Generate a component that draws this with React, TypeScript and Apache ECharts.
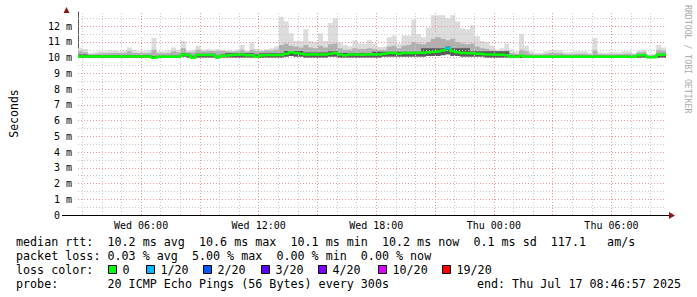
import React, { useEffect, useRef } from "react";
import * as echarts from "echarts";

// Time axis: hours since Wed 00:00; 15-minute bins, 30 hours ending Thu 08:46:57
const START_HOUR = 2.7825;
const BIN_HOURS = 0.25;
const RANGE_HOURS = 30;

const xLabelHours = [6, 12, 18, 24, 30];
const xLabelTexts = ["Wed 06:00", "Wed 12:00", "Wed 18:00", "Thu 00:00", "Thu 06:00"];
const majorGridHours = [6, 9, 12, 15, 18, 21, 24, 27, 30];
const minorGridHours = [3, 4, 5, 7, 8, 10, 11, 13, 14, 16, 17, 19, 20, 22, 23, 25, 26, 28, 29, 31, 32];
const yMajorGrid = [1, 2, 3, 4, 5, 6, 7, 8, 9, 10, 11, 12];
const yMinorGrid = [0.5, 1.5, 2.5, 3.5, 4.5, 5.5, 6.5, 7.5, 8.5, 9.5, 10.5, 11.5, 12.5];

// median RTT (ms) per bin
const medianRtt = [
  10.08, 10.08, 10.08, 10.08, 10.08, 10.08, 10.08, 10.08, 10.08, 10.08,
  10.08, 10.08, 10.08, 10.08, 10.08, 10.0, 10.05, 10.05, 10.05, 10.05,
  10.05, 10.2, 10.15, 10.0, 10.17, 10.17, 10.17, 10.17, 10.02, 10.12,
  10.15, 10.18, 10.2, 10.2, 10.15, 10.15, 10.05, 10.15, 10.17, 10.17,
  10.17, 10.17, 10.25, 10.35, 10.3, 10.25, 10.2, 10.22, 10.2, 10.2,
  10.2, 10.25, 10.3, 10.2, 10.15, 10.2, 10.2, 10.18, 10.2, 10.22,
  10.2, 10.2, 10.25, 10.3, 10.3, 10.25, 10.3, 10.3, 10.3, 10.32,
  10.3, 10.35, 10.38, 10.4, 10.45, 10.6, 10.4, 10.35, 10.3, 10.28,
  10.3, 10.25, 10.22, 10.2, 10.2, 10.18, 10.2, 10.15, 10.05, 10.05,
  10.12, 10.05, 10.05, 10.05, 10.05, 10.05, 10.05, 10.05, 10.05, 10.05,
  10.05, 10.05, 10.05, 10.05, 10.05, 10.05, 10.05, 10.05, 10.05, 10.05,
  10.05, 10.05, 10.05, 10.05, 10.15, 10.15, 10.03, 10.03, 10.18, 10.18,
];

// packet loss (of 20) per bin
const lossCount = [
  0, 0, 0, 0, 0, 0, 0, 0, 0, 0, 0, 0, 0, 0, 0, 0, 0, 0, 0, 0,
  0, 0, 0, 0, 0, 0, 0, 0, 0, 0, 0, 0, 0, 0, 0, 0, 0, 0, 0, 0,
  0, 0, 0, 0, 0, 0, 0, 0, 0, 0, 0, 0, 0, 0, 0, 0, 0, 0, 0, 0,
  0, 0, 0, 0, 0, 0, 0, 0, 0, 0, 0, 0, 0, 0, 0, 1, 0, 0, 0, 0,
  0, 0, 0, 0, 0, 0, 0, 0, 0, 0, 0, 0, 0, 0, 0, 0, 0, 0, 0, 0,
  0, 0, 0, 0, 0, 0, 0, 0, 0, 0, 0, 0, 0, 0, 0, 0, 0, 0, 0, 0,
];

// smoke: lowest ping
const smokeMin = [
  9.98, 9.98, 9.98, 9.98, 9.98, 9.98, 9.98, 9.98, 9.98, 9.98,
  9.98, 9.98, 9.98, 9.98, 9.98, 9.95, 9.98, 9.98, 9.98, 9.98,
  9.98, 10.05, 10.0, 9.95, 10.0, 10.0, 10.0, 10.0, 9.95, 10.0,
  10.0, 10.0, 10.0, 10.0, 10.0, 10.0, 9.98, 10.0, 10.0, 10.0,
  10.0, 10.0, 10.05, 10.1, 10.05, 10.05, 10.0, 10.0, 10.0, 10.0,
  10.0, 10.05, 10.05, 10.0, 10.0, 10.0, 10.0, 10.0, 10.0, 10.0,
  10.0, 10.0, 10.05, 10.05, 10.05, 10.05, 10.05, 10.05, 10.05, 10.05,
  10.05, 10.1, 10.1, 10.1, 10.15, 10.2, 10.1, 10.1, 10.05, 10.05,
  10.05, 10.05, 10.05, 10.0, 10.0, 10.0, 10.0, 10.0, 9.98, 9.98,
  9.98, 9.98, 9.98, 9.98, 9.98, 9.98, 9.98, 9.98, 9.98, 9.98,
  9.98, 9.98, 9.98, 9.98, 9.98, 9.98, 9.98, 9.98, 9.98, 9.98,
  9.98, 9.98, 9.98, 9.98, 10.0, 10.0, 9.98, 9.98, 10.0, 10.0,
];

// smoke: top of the dark band
const smokeDark = [
  10.2, 10.2, 10.15, 10.15, 10.15, 10.15, 10.15, 10.15, 10.15, 10.15,
  10.15, 10.15, 10.15, 10.15, 10.15, 10.1, 10.12, 10.12, 10.12, 10.12,
  10.12, 10.3, 10.25, 10.12, 10.25, 10.25, 10.25, 10.25, 10.12, 10.2,
  10.28, 10.28, 10.28, 10.28, 10.28, 10.28, 10.2, 10.28, 10.28, 10.28,
  10.28, 10.28, 10.42, 10.42, 10.42, 10.42, 10.32, 10.32, 10.32, 10.32,
  10.32, 10.4, 10.4, 10.3, 10.3, 10.3, 10.3, 10.3, 10.3, 10.3,
  10.38, 10.38, 10.38, 10.38, 10.38, 10.38, 10.38, 10.38, 10.38, 10.38,
  10.6, 10.6, 10.6, 10.6, 10.6, 10.7, 10.6, 10.6, 10.6, 10.6,
  10.4, 10.4, 10.4, 10.4, 10.4, 10.4, 10.4, 10.4, 10.15, 10.15,
  10.12, 10.12, 10.12, 10.12, 10.12, 10.12, 10.12, 10.12, 10.12, 10.12,
  10.12, 10.12, 10.12, 10.12, 10.12, 10.12, 10.12, 10.12, 10.12, 10.12,
  10.12, 10.12, 10.12, 10.12, 10.22, 10.22, 10.1, 10.1, 10.25, 10.25,
];

// smoke: top of the medium band
const smokeMid = [
  10.4, 10.35, 10.22, 10.25, 10.28, 10.28, 10.3, 10.3, 10.28, 10.3,
  10.4, 10.3, 10.28, 10.28, 10.3, 10.5, 10.28, 10.28, 10.3, 10.4,
  10.35, 10.6, 10.35, 10.35, 10.5, 10.4, 10.42, 10.4, 10.42, 10.4,
  10.38, 10.38, 10.4, 10.5, 10.38, 10.5, 10.4, 10.4, 10.45, 10.45,
  10.5, 10.8, 10.9, 10.75, 10.7, 10.65, 10.8, 10.65, 10.6, 10.75,
  10.65, 10.85, 10.9, 10.6, 10.5, 10.5, 10.6, 10.55, 10.55, 10.6,
  10.55, 10.5, 10.5, 10.7, 10.75, 10.6, 10.75, 10.8, 11.0, 10.9,
  10.85, 11.0, 11.2, 11.3, 11.2, 11.1, 11.2, 11.0, 10.9, 10.85,
  10.9, 10.7, 10.6, 10.55, 10.45, 10.35, 10.4, 10.45, 10.3, 10.25,
  10.5, 10.4, 10.25, 10.2, 10.2, 10.25, 10.3, 10.3, 10.28, 10.22,
  10.22, 10.25, 10.25, 10.25, 10.2, 10.45, 10.22, 10.2, 10.22, 10.22,
  10.22, 10.25, 10.25, 10.2, 10.35, 10.38, 10.15, 10.18, 10.5, 10.45,
];

// smoke: highest ping
const smokeMax = [
  10.6, 10.55, 10.3, 10.35, 10.4, 10.4, 10.45, 10.45, 10.4, 10.45,
  10.65, 10.5, 10.4, 10.4, 10.45, 11.25, 10.4, 10.4, 10.45, 10.65,
  10.5, 11.05, 10.45, 10.5, 10.75, 10.5, 10.55, 10.5, 10.55, 10.5,
  10.45, 10.45, 10.5, 10.8, 10.45, 10.95, 10.55, 10.5, 10.55, 10.6,
  10.7, 12.6, 12.3, 11.55, 11.05, 11.05, 11.8, 11.05, 11.0, 11.55,
  11.05, 12.2, 12.5, 11.0, 10.8, 10.7, 11.1, 10.9, 10.9, 11.1,
  10.9, 10.67, 10.7, 11.3, 11.4, 10.9, 11.4, 11.4, 12.4, 11.5,
  11.3, 11.9, 12.7, 12.7, 12.7, 12.5, 12.7, 12.3, 11.85, 11.8,
  12.06, 11.36, 11.05, 11.0, 10.75, 10.5, 10.6, 10.9, 10.5, 10.4,
  11.5, 10.75, 10.4, 10.3, 10.3, 10.4, 10.5, 10.5, 10.45, 10.35,
  10.35, 10.4, 10.4, 10.4, 10.3, 11.25, 10.35, 10.3, 10.35, 10.35,
  10.35, 10.4, 10.4, 10.3, 10.45, 10.5, 10.2, 10.25, 10.8, 10.65,
];

const lossLabels = ["0", "1/20", "2/20", "3/20", "4/20", "10/20", "19/20"];
const lossColors = ["#00ff00", "#00b8ff", "#0059ff", "#5e00ff", "#7e00ff", "#dd00ff", "#ff0000"];

const statRows = [
  ["median rtt:", "10.2 ms avg  10.6 ms max  10.1 ms min  10.2 ms now  0.1 ms sd  117.1   am/s"],
  ["packet loss:", "0.03 % avg  5.00 % max  0.00 % min  0.00 % now"],
  ["loss color:", ""],
  ["probe:", "20 ICMP Echo Pings (56 Bytes) every 300s"],
];
const endText = "end: Thu Jul 17 08:46:57 2025";
const watermark = "RRDTOOL / TOBI OETIKER";

const MONO = '"DejaVu Sans Mono", monospace';
const nb = (s: string) => s.replace(/ /g, "\u00a0");

function timeOf(i: number) {
  return START_HOUR + i * BIN_HOURS;
}

function stepData(values: number[]) {
  const d: [number, number][] = values.map((v, i) => [timeOf(i), v]);
  d.push([timeOf(values.length), values[values.length - 1]]);
  return d;
}

export default function App() {
  const ref = useRef<HTMLDivElement>(null);

  useEffect(() => {
    if (!ref.current) return;
    const chart = echarts.init(ref.current, undefined, { renderer: "svg" });

    const lossSeriesData: ([number, number] | null)[] = [];
    lossCount.forEach((l, i) => {
      if (l > 0) {
        lossSeriesData.push([timeOf(i), medianRtt[i]]);
        lossSeriesData.push([timeOf(i + 1), medianRtt[i]]);
        lossSeriesData.push(null);
      }
    });
    const lossColorFor = (n: number) => {
      if (n >= 19) return lossColors[6];
      if (n >= 10) return lossColors[5];
      if (n >= 4) return lossColors[4];
      return lossColors[n];
    };
    const firstLoss = lossCount.find((l) => l > 0) || 1;

    const dotted = (color: string) => ({ color, type: [1, 2], width: 1, opacity: 1 });
    const gridMarks = [
      ...minorGridHours.map((h) => ({ xAxis: h, lineStyle: dotted("#c8c8c8") })),
      ...majorGridHours.map((h) => ({ xAxis: h, lineStyle: dotted("#e89898") })),
      ...yMinorGrid.map((v) => ({ yAxis: v, lineStyle: dotted("#c8c8c8") })),
      ...yMajorGrid.map((v) => ({ yAxis: v, lineStyle: dotted("#e89898") })),
    ];

    const graphics: any[] = [];
    statRows.forEach((row, r) => {
      const y = 241.5 + r * 14;
      graphics.push({
        type: "text", x: 16, y,
        style: { text: nb(row[0]), fontFamily: MONO, fontSize: 11.7, fill: "#000", verticalAlign: "middle" },
      });
      if (row[1]) {
        graphics.push({
          type: "text", x: 107.5, y,
          style: { text: nb(row[1]), fontFamily: MONO, fontSize: 11.7, fill: "#000", verticalAlign: "middle" },
        });
      }
    });
    const swatchX = [108, 146, 203, 261, 318, 378, 442];
    lossLabels.forEach((lab, k) => {
      graphics.push({
        type: "rect",
        shape: { x: swatchX[k] + 0.5, y: 265.5, width: 8, height: 8 },
        style: { fill: lossColors[k], stroke: "#000", lineWidth: 1 },
      });
      graphics.push({
        type: "text", x: swatchX[k] + 14.5, y: 269.5,
        style: { text: lab, fontFamily: MONO, fontSize: 11.7, fill: "#000", verticalAlign: "middle" },
      });
    });
    graphics.push({
      type: "text", x: 681, y: 283.5,
      style: { text: nb(endText), fontFamily: MONO, fontSize: 11.7, fill: "#000", align: "right", verticalAlign: "middle" },
    });
    graphics.push({
      type: "text", x: 688, y: 5, rotation: -Math.PI / 2,
      style: { text: nb(watermark), fontFamily: MONO, fontSize: 8.2, fill: "#aaaaaa", align: "left", verticalAlign: "middle" },
    });
    // axis extensions and arrows
    graphics.push({ type: "line", shape: { x1: 66.5, y1: 12, x2: 66.5, y2: 9 }, style: { stroke: "#555", lineWidth: 1 } });
    graphics.push({ type: "line", shape: { x1: 62, y1: 215.5, x2: 670, y2: 215.5 }, style: { stroke: "#000", lineWidth: 1 } });
    graphics.push({ type: "polygon", shape: { points: [[63.5, 13], [69.5, 13], [66.5, 7]] }, style: { fill: "#8b1a1a" } });
    graphics.push({ type: "polygon", shape: { points: [[669, 212], [669, 219], [675, 215.5]] }, style: { fill: "#8b1a1a" } });

    const band = (name: string, values: number[], color: string, z: number) => ({
      type: "line",
      name,
      step: "end",
      symbol: "none",
      data: stepData(values),
      lineStyle: { width: 0, opacity: 0 },
      areaStyle: { color, opacity: 1 },
      z,
      silent: true,
    });

    chart.setOption({
      animation: false,
      backgroundColor: "#ffffff",
      grid: { left: 66, top: 12, width: 600, height: 203, containLabel: false },
      xAxis: {
        type: "value",
        min: START_HOUR,
        max: START_HOUR + RANGE_HOURS,
        axisLine: { show: true, lineStyle: { color: "#000", width: 1 } },
        axisTick: { show: false },
        splitLine: { show: false },
        axisLabel: {
          customValues: xLabelHours,
          formatter: (v: number) => {
            const k = xLabelHours.findIndex((h) => Math.abs(h - v) < 1e-6);
            return k >= 0 ? nb(xLabelTexts[k]) : "";
          },
          fontFamily: MONO,
          fontSize: 10,
          color: "#000",
          margin: 5,
        },
      },
      yAxis: {
        type: "value",
        min: 0,
        max: 12.9,
        interval: 1,
        name: "Seconds",
        nameLocation: "middle",
        nameRotate: 90,
        nameGap: 58,
        nameTextStyle: { fontFamily: MONO, fontSize: 11.5, color: "#000" },
        axisLine: { show: true, lineStyle: { color: "#555", width: 1 } },
        axisTick: { show: false },
        splitLine: { show: false },
        axisLabel: {
          showMaxLabel: false,
          formatter: (v: number) => (v === 0 ? nb("0  ") : nb(`${v} m`)),
          fontFamily: MONO,
          fontSize: 10,
          color: "#000",
          margin: 6,
        },
      },
      graphic: graphics,
      series: [
        band("light", smokeMax, "#dcdcdc", 2),
        band("mid", smokeMid, "#b0b0b0", 3),
        band("dark", smokeDark, "#5a5a5a", 4),
        {
          ...band("below", smokeMin, "#ffffff", 5),
          markLine: {
            silent: true,
            z: 6,
            symbol: ["none", "none"],
            label: { show: false },
            emphasis: { disabled: true },
            animation: false,
            data: gridMarks,
          },
        },
        {
          type: "line",
          name: "median",
          step: "end",
          symbol: "none",
          data: stepData(medianRtt),
          lineStyle: { color: lossColors[0], width: 2.5 },
          z: 8,
          silent: true,
        },
        {
          type: "line",
          name: "loss",
          step: "end",
          symbol: "none",
          connectNulls: false,
          data: lossSeriesData,
          lineStyle: { color: lossColorFor(firstLoss), width: 2.5 },
          z: 9,
          silent: true,
        },
      ],
    });

    return () => chart.dispose();
  }, []);

  return <div ref={ref} style={{ position: "fixed", left: 0, top: 0, width: 697, height: 297 }} />;
}
